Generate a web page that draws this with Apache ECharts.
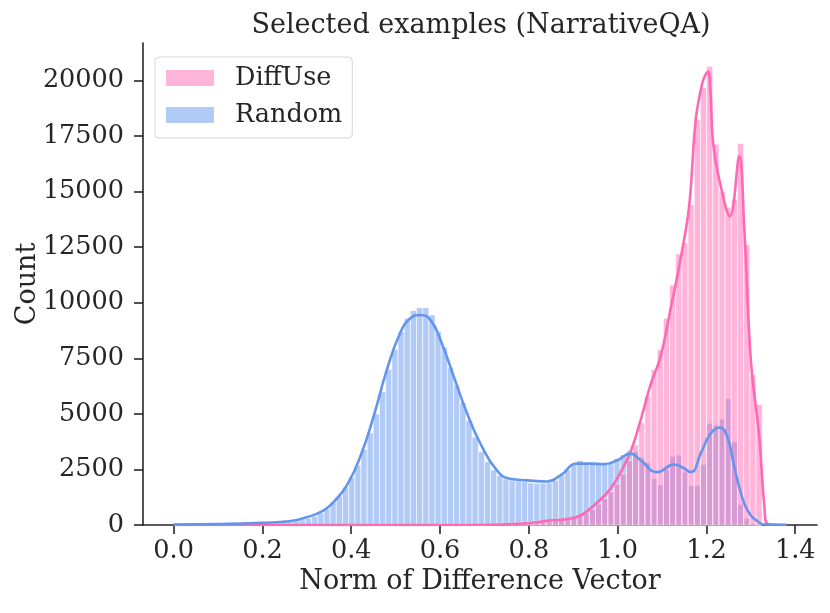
<!DOCTYPE html>
<html>
<head>
<meta charset="utf-8">
<script src="https://cdn.jsdelivr.net/npm/echarts@6/dist/echarts.min.js"></script>
<style>
  html, body { margin: 0; padding: 0; background: #fff; }
  #main { width: 830px; height: 613px; }
</style>
</head>
<body>
<div id="main"></div>
<script>
// histogram bins (common to both groups)
var binStart = 0.005;
var binWidth = 0.0139;

// counts per bin
var randomCounts = [
  10, 12, 15, 15, 20, 20, 25, 25, 30, 35,
  40, 45, 55, 65, 75, 90, 105, 125, 150, 185,
  230, 300, 400, 540, 730, 1030, 1300, 1700, 2150, 2700,
  3400, 4150, 5000, 6000, 7000, 7900, 8700, 9300, 9650, 9780,
  9780, 9450, 8700, 8000, 7100, 6300, 5500, 4700, 3950, 3300,
  2850, 2480, 2230, 2080, 2020, 1980, 1950, 1900, 1870, 1880,
  1900, 2000, 2250, 2480, 2700, 2900, 2800, 2780, 2760, 2760,
  2800, 2990, 3150, 3350, 3300, 3050, 2800, 2100, 1800, 2500,
  3100, 3150, 2380, 1780, 1780, 2730, 4570, 4500, 4760, 5690,
  3740, 925, 290, 50, 0
];
var diffuseCounts = [
  0, 0, 0, 0, 0, 0, 0, 0, 0, 0,
  0, 0, 0, 0, 0, 0, 0, 0, 0, 0,
  0, 0, 0, 0, 0, 0, 0, 0, 0, 0,
  0, 0, 0, 0, 0, 0, 0, 0, 0, 0,
  0, 0, 0, 0, 0, 0, 10, 15, 20, 25,
  30, 40, 50, 60, 80, 100, 120, 150, 180, 200,
  210, 230, 260, 290, 330, 420, 560, 720, 950, 1200,
  1500, 1850, 2300, 2900, 3600, 4600, 5800, 7000, 7900, 9300,
  10800, 12200, 12700, 14400, 18250, 19680, 20630, 17130, 15000, 14300,
  14650, 17170, 12610, 6750, 5420
];

// density curves (scaled to counts)
var randomKde = [
  [0.0, 20], [0.1, 40], [0.2, 100], [0.26, 170], [0.3, 350], [0.337, 650],
  [0.36, 1030], [0.39, 1780], [0.42, 3060], [0.45, 4860], [0.48, 6970],
  [0.51, 8630], [0.533, 9300], [0.555, 9450], [0.578, 9230], [0.601, 8330],
  [0.631, 6670], [0.661, 5020], [0.691, 3660], [0.728, 2460], [0.758, 2080],
  [0.796, 2010], [0.841, 1960], [0.871, 2230], [0.909, 2760], [0.939, 2760],
  [0.968, 2740], [0.999, 2910], [1.029, 3210], [1.052, 2910], [1.089, 2380],
  [1.127, 2720], [1.145, 2600], [1.165, 2380], [1.187, 3210], [1.209, 4110],
  [1.23, 4390], [1.247, 3960], [1.262, 2690], [1.278, 1410], [1.293, 650],
  [1.315, 170], [1.335, 20], [1.38, 0]
];
var diffuseKde = [
  [0.0, 0], [0.5, 0], [0.7, 10], [0.75, 30], [0.8, 90], [0.846, 200],
  [0.891, 280], [0.921, 480], [0.951, 960], [0.981, 1560], [1.002, 2200],
  [1.029, 3300], [1.05, 4600], [1.074, 6300], [1.097, 7600], [1.12, 9800],
  [1.142, 12000], [1.161, 14340], [1.176, 18250], [1.191, 19910],
  [1.199, 20300], [1.204, 20400], [1.209, 19500], [1.215, 17200],
  [1.229, 15540], [1.253, 13890],
  [1.274, 16600], [1.285, 13440], [1.30, 7420], [1.319, 3960], [1.33, 970],
  [1.339, 30], [1.38, 0]
];

var xTicks = [0, 0.2, 0.4, 0.6, 0.8, 1.0, 1.2, 1.4];
var yTicks = [0, 2500, 5000, 7500, 10000, 12500, 15000, 17500, 20000];

var font = '"DejaVu Serif", serif';
var ink = '#262626';
var pinkLine = '#ff69b4';
var blueLine = '#6495ed';
var pinkFill = 'rgba(255,105,180,0.5)';
var blueFill = 'rgba(100,149,237,0.5)';

function toBins(counts) {
  var out = [];
  for (var i = 0; i < counts.length; i++) {
    var a = binStart + i * binWidth;
    out.push([a, a + binWidth, counts[i]]);
  }
  return out;
}

function barRenderer(fill) {
  return function (params, api) {
    var top = api.coord([api.value(0), api.value(2)]);
    var bot = api.coord([api.value(1), 0]);
    return {
      type: 'rect',
      shape: { x: top[0], y: top[1], width: bot[0] - top[0], height: bot[1] - top[1] },
      style: { fill: fill, stroke: '#ffffff', lineWidth: 0.6 }
    };
  };
}

var myChart = echarts.init(document.getElementById('main'));
var option = {
  animation: false,
  backgroundColor: '#fff',
  title: {
    text: 'Selected examples (NarrativeQA)',
    left: 476, top: 7, textAlign: 'center',
    textStyle: { fontFamily: font, fontSize: 27, fontWeight: 'normal', color: ink }
  },
  legend: {
    orient: 'vertical',
    left: 155, top: 57,
    itemWidth: 48, itemHeight: 16, itemGap: 11,
    padding: [8, 10, 10, 11],
    borderColor: '#d6d6d6', borderWidth: 1, borderRadius: 4,
    textStyle: { fontFamily: font, fontSize: 25.5, color: ink, padding: [0, 0, 0, 16] },
    data: [{ name: 'DiffUse', icon: 'rect' }, { name: 'Random', icon: 'rect' }]
  },
  grid: { left: 143, right: 13, top: 43, bottom: 88 },
  xAxis: {
    type: 'value', min: -0.069, max: 1.449,
    name: 'Norm of Difference Vector', nameLocation: 'middle', nameGap: 43,
    nameTextStyle: { fontFamily: font, fontSize: 27, color: ink },
    axisLine: { lineStyle: { color: ink, width: 1.6 } },
    axisTick: { length: 9, customValues: xTicks, lineStyle: { color: ink, width: 1.6 } },
    axisLabel: {
      customValues: xTicks, margin: 13, fontFamily: font, fontSize: 25.5, color: ink,
      formatter: function (v) { return v.toFixed(1); }
    },
    splitLine: { show: false }
  },
  yAxis: {
    type: 'value', min: 0, max: 21690,
    name: 'Count', nameLocation: 'middle', nameGap: 102, nameRotate: 90,
    nameMoveOverlap: false,
    nameTextStyle: { fontFamily: font, fontSize: 27, color: ink },
    axisLine: { show: true, onZero: false, lineStyle: { color: ink, width: 1.6 } },
    axisTick: { show: true, length: 9, customValues: yTicks, lineStyle: { color: ink, width: 1.6 } },
    axisLabel: {
      customValues: yTicks, margin: 19, fontFamily: font, fontSize: 25.5, color: ink,
      formatter: function (v) { return String(v); }
    },
    splitLine: { show: false }
  },
  series: [
    {
      name: 'Random', type: 'custom', renderItem: barRenderer(blueFill),
      itemStyle: { color: blueFill }, encode: { x: [0, 1], y: 2 },
      data: toBins(randomCounts), z: 1
    },
    {
      name: 'DiffUse', type: 'custom', renderItem: barRenderer(pinkFill),
      itemStyle: { color: pinkFill }, encode: { x: [0, 1], y: 2 },
      data: toBins(diffuseCounts), z: 2
    },
    {
      name: 'DiffUse density', type: 'line', data: diffuseKde, showSymbol: false,
      smooth: 0.4, z: 3,
      lineStyle: { color: pinkLine, width: 2.6 }, itemStyle: { color: pinkLine }
    },
    {
      name: 'Random density', type: 'line', data: randomKde, showSymbol: false,
      smooth: 0.5, z: 4,
      lineStyle: { color: blueLine, width: 2.6 }, itemStyle: { color: blueLine }
    }
  ]
};
myChart.setOption(option);
</script>
</body>
</html>
